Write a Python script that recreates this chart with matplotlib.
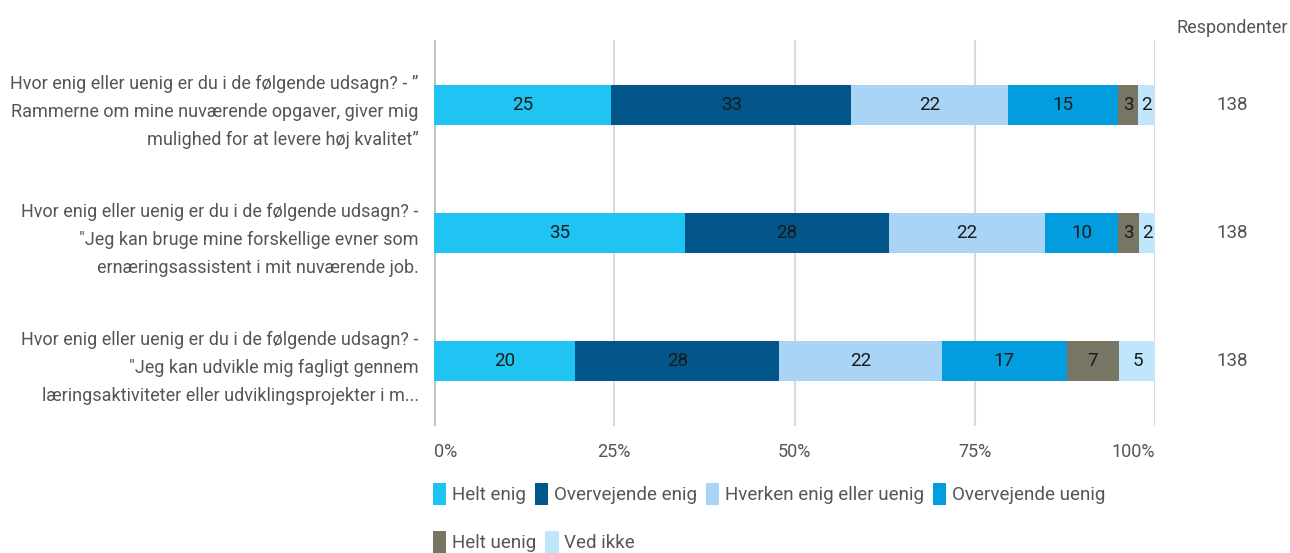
import matplotlib
matplotlib.use("Agg")
import matplotlib.pyplot as plt
from matplotlib.patches import Patch
import matplotlib.transforms as mtransforms
import numpy as np

plt.rcParams['font.family'] = ['Roboto', 'DejaVu Sans']

questions = [
    'Hvor enig eller uenig er du i de følgende udsagn? - ”\nRammerne om mine nuværende opgaver, giver mig\nmulighed for at levere høj kvalitet”',
    'Hvor enig eller uenig er du i de følgende udsagn? -\n"Jeg kan bruge mine forskellige evner som\nernæringsassistent i mit nuværende job.',
    'Hvor enig eller uenig er du i de følgende udsagn? -\n"Jeg kan udvikle mig fagligt gennem\nlæringsaktiviteter eller udviklingsprojekter i m...',
]
categories = ["Helt enig", "Overvejende enig", "Hverken enig eller uenig",
              "Overvejende uenig", "Helt uenig", "Ved ikke"]
colors = ["#20c4f2", "#03568a", "#a9d4f5", "#029ddf", "#777664", "#bfe6fb"]
helt_enig = [24.6, 34.8, 19.6]
overvejende_enig = [33.3, 28.3, 28.3]
hverken = [21.7, 21.7, 22.5]
overvejende_uenig = [15.2, 10.1, 17.4]
helt_uenig = [2.9, 2.9, 7.2]
ved_ikke = [2.2, 2.2, 5.1]
respondents = [138, 138, 138]
xticks = [0, 25, 50, 75, 100]
xticklabels = ["0%", "25%", "50%", "75%", "100%"]

series = [helt_enig, overvejende_enig, hverken, overvejende_uenig, helt_uenig, ved_ikke]

fig = plt.figure(figsize=(12.9, 5.53), dpi=100)
ax = fig.add_axes([434/1290, 127/553, (1155-434)/1290, 386/553])

y = np.arange(len(questions))
left = np.zeros(len(questions))
for vals, col, name in zip(series, colors, categories):
    vals = np.array(vals)
    ax.barh(y, vals, left=left, height=0.3125, color=col, label=name, zorder=3)
    for yi, (l, v) in enumerate(zip(left, vals)):
        ax.text(l + v / 2, yi, f"{round(v):d}", ha="center", va="center",
                fontsize=13.5, color="#1a1a1a", zorder=4)
    left += vals

ax.set_xlim(0, 100)
ax.set_ylim(2.508, -0.508)
for s in ax.spines.values():
    s.set_visible(False)
ax.set_xticks(xticks)
ax.set_xticklabels(xticklabels, fontsize=13, color="#555555")
ax.tick_params(axis="x", length=0, pad=12)
xl = ax.get_xticklabels()
xl[0].set_ha("left")
xl[-1].set_ha("right")
ax.set_yticks(y)
ax.set_yticklabels(questions, fontsize=13, color="#555555", linespacing=1.7)
ax.tick_params(axis="y", length=0, pad=11)
for t in ax.get_yticklabels():
    t.set_ha("right")
for xv in xticks:
    ax.axvline(xv, color="#bfbfbf" if xv == 0 else "#dadada",
               lw=2 if xv == 0 else 1.5, zorder=1)

# respondents column
fig.text(1232/1290, 1 - 28/553, "Respondenter", ha="center", va="center",
         fontsize=13, color="#555555")
blend = mtransforms.blended_transform_factory(fig.transFigure, ax.transData)
for yi, n in zip(y, respondents):
    ax.text(1232/1290, yi, str(n), transform=blend,
            ha="center", va="center", fontsize=13.5, color="#555555")

handles = [Patch(facecolor=c, edgecolor="none", label=n) for c, n in zip(colors, categories)]
common = dict(frameon=False, fontsize=13.5, handlelength=0.7, handleheight=1.35,
              handletextpad=0.3, columnspacing=0.5, borderpad=0, borderaxespad=0,
              labelcolor="#555555", loc="center left")
leg1 = fig.legend(handles=handles[:4], ncol=4, bbox_to_anchor=(433/1290, 1 - 494/553), **common)
leg2 = fig.legend(handles=handles[4:], ncol=2, bbox_to_anchor=(433/1290, 1 - 542/553), **common)

fig.savefig("out.png", dpi=100)
